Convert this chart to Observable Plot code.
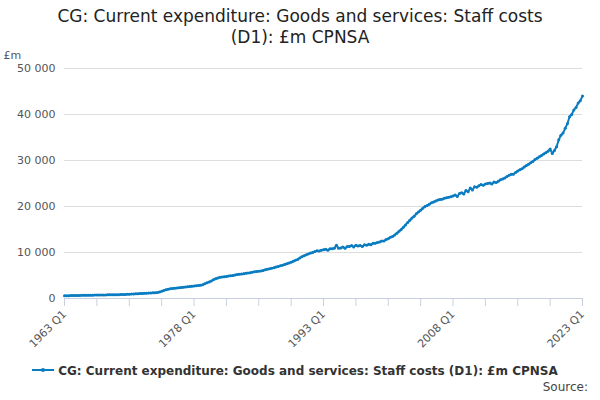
<!DOCTYPE html><html><head><meta charset="utf-8">
<script src="https://cdn.jsdelivr.net/npm/d3@7"></script>
<script src="https://cdn.jsdelivr.net/npm/@observablehq/plot@0.6"></script>
<style>body{margin:0;font-family:"DejaVu Sans",sans-serif;background:#fff}
h1{font-size:17px;font-weight:normal;text-align:center;margin:6px 45px 0;line-height:21px;color:#222}
.leg{font-size:12px;font-weight:bold;color:#333;margin-left:32px;margin-top:6px}
.src{font-size:12px;color:#444;text-align:right;margin-right:12px;margin-top:2px}</style></head><body>
<h1>CG: Current expenditure: Goods and services: Staff costs (D1): £m CPNSA</h1>
<div id="c"></div>
<div class="leg"><svg width="22" height="10"><line x1="0" y1="5" x2="22" y2="5" stroke="#0a7cc1" stroke-width="2"/><circle cx="11" cy="5" r="2" fill="#0a7cc1"/></svg> CG: Current expenditure: Goods and services: Staff costs (D1): £m CPNSA</div>
<div class="src">Source:</div>
<script>
const startYear = 1963;
const values = [
600,610,620,630, 640,650,660,670, 680,690,700,710, 720,725,735,745, 750,760,770,780, 790,800,810,820, 830,840,850,870,
890,910,940,970, 1000,1020,1050,1080, 1100,1120,1150,1180, 1200,1230,1270,1320, 1400,1550,1750,1900, 2000,2100,2200,2250,
2300,2350,2400,2450, 2500,2550,2600,2650, 2700,2750,2800,2900, 3000,3200,3400,3600, 3800,4100,4300,4450, 4600,4650,4750,4800,
4900,4950,5000,5100, 5200,5250,5300,5400, 5500,5550,5600,5700, 5800,5850,5950,6000, 6100,6250,6350,6450, 6600,6700,6850,6950,
7100,7250,7400,7550, 7700,7900,8100,8300, 8500,8800,9100,9300, 9500,9700,9900,10000, 10200,10400,10300,10500, 10600,10700,10500,10800,
10800,10900,11600,10900, 11000,11200,10900,11300, 11300,11500,11200,11600, 11400,11500,11300,11700, 11600,11800,11700,12000, 12000,12200,12300,12500,
12500,12800,13000,13300, 13500,13800,14200,14600, 15000,15500,16000,16500, 17000,17500,17900,18400, 18800,19200,19600,20000, 20200,20500,20800,21000,
21200,21400,21500,21600, 21800,21900,22000,22100, 22300,22500,22200,22800, 23000,22700,23500,23200, 24000,23600,24300,24200, 24500,24800,24600,24900,
25000,25100,24900,25300, 25200,25500,25800,26000, 26200,26500,26800,27000, 27000,27400,27700,28000, 28200,28600,28900,29200, 29500,29800,30200,30500,
30800,31100,31400,31700, 32000,32500,31500,32200, 33000,34500,35500,36000, 37000,38000,39500,40000, 41000,41500,42500,43000, 44000
];
const data = values.map((v,i)=>({t:i, v}));
const xt = d3.range(0,241,15);
const lab = i => i%60===0 ? `${startYear+i/4} Q1` : "";
document.getElementById("c").appendChild(Plot.plot({
  width:600, height:310, marginLeft:64, marginRight:18, marginTop:20, marginBottom:60,
  style:{fontFamily:"DejaVu Sans",fontSize:"11px",color:"#555"},
  x:{domain:[0,240], ticks:xt, tickFormat:lab, tickRotate:-45, label:null, tickSize:8},
  y:{domain:[0,50000], ticks:[0,10000,20000,30000,40000,50000], tickFormat:d=>d3.format(",")(d).replace(/,/g," "), label:"£m", labelAnchor:"top", labelArrow:"none", tickSize:0},
  marks:[
    Plot.gridY([10000,20000,30000,40000,50000],{stroke:"#ddd",strokeOpacity:1}),
    Plot.axisX({ticks:xt, tickFormat:lab, tickRotate:-45, tickSize:8, stroke:"#c8d0e0", label:null}),
    Plot.ruleY([0],{stroke:"#c8d0e0"}),
    Plot.line(data,{x:"t",y:"v",stroke:"#0a7cc1",strokeWidth:2}),
    Plot.dot(data,{x:"t",y:"v",fill:"#0a7cc1",r:1.5})
  ]
}));
</script></body></html>
